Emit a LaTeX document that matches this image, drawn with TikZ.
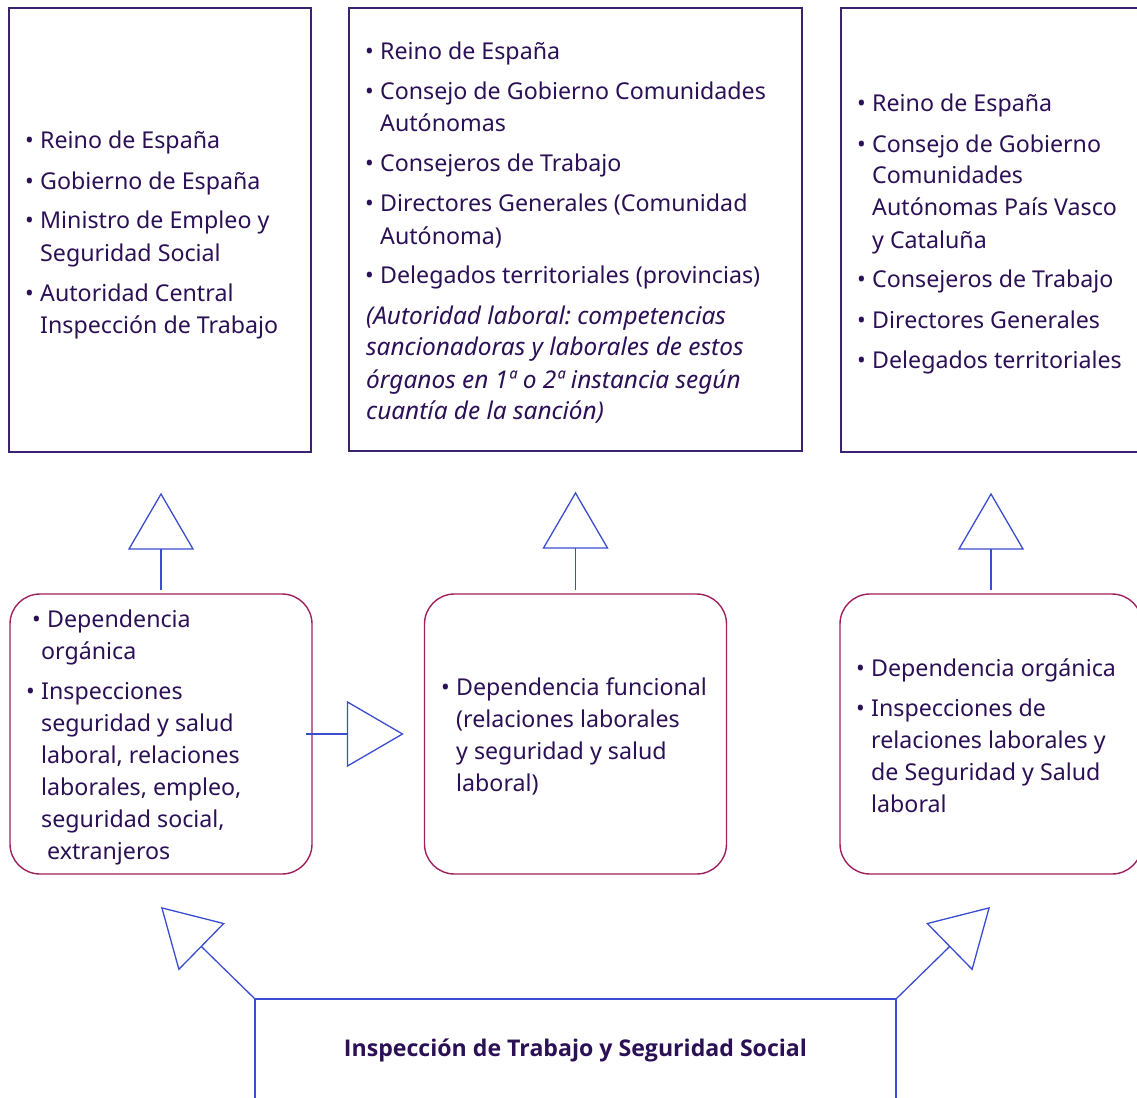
\documentclass[tikz,border=0pt]{standalone}
\usepackage{fontspec}
\usepackage{graphicx}
\setmainfont{Noto Sans}
\newfontfamily\osans{Open Sans}
\usetikzlibrary{arrows.meta}
\definecolor{txtcol}{HTML}{2B1055}
\definecolor{boxcol}{HTML}{3B2170}
\definecolor{rndcol}{HTML}{A0205E}
\definecolor{blu}{HTML}{3A4CCF}
\frenchspacing
\newcommand\nl{\hfil\break}
\newcommand\bul[1]{\par\hangindent=15pt\hangafter=1\noindent\makebox[15pt][l]{•}#1\par}
\newenvironment{blk}{\begin{minipage}[t]{420pt}\raggedright\frenchspacing\setlength{\parskip}{8pt}\hyphenpenalty=10000 }{\end{minipage}}
\tikzset{
  topbox/.style={draw=boxcol, line width=1.4pt, minimum width=302pt, minimum height=444pt, inner sep=0pt},
  rndbox/.style={draw=rndcol, line width=1.4pt, rounded corners=30pt, minimum width=302pt, minimum height=280pt, inner sep=0pt},
  txt/.style={text=txtcol, font=\fontsize{23.2}{32}\selectfont, inner sep=0pt, anchor=base west},
  conn/.style={draw=blu, line width=1.3pt, -{Triangle[open, length=57pt, width=66pt]}},
}
\begin{document}
\begin{tikzpicture}[x=1pt, y=-1pt]
\useasboundingbox (0,0) rectangle (1137,1097);
\clip (0,0) rectangle (1137,1097);
% top boxes
\node[topbox] (tl) at (160,230) {};
\node[topbox, minimum width=453pt, minimum height=443pt] (tm) at (575.5,229.5) {};
\node[topbox] (tr) at (992,230) {};
% rounded boxes
\node[rndbox] (rl) at (161,734) {};
\node[rndbox] (rm) at (575.5,734) {};
\node[rndbox] (rr) at (991,734) {};
% bottom box
\node[draw=blu, line width=1.3pt, minimum width=641pt, minimum height=102pt, inner sep=0pt, text=txtcol, font=\fontsize{23}{28}\selectfont] (itss) at (575.5,1050) {\raisebox{-2pt}{\resizebox{463pt}{\height}{\osans\bfseries Inspección de Trabajo y Seguridad Social}}};
% texts top
\node[txt] (tltext) at (25,149) {\begin{blk}
\bul{Reino de España}
\bul{Gobierno de España}
\bul{Ministro de Empleo y\nl Seguridad Social}
\bul{Autoridad Central\nl Inspección de Trabajo}
\end{blk}};
\node[txt] (tmtext) at (365,60) {\begin{blk}
\bul{Reino de España}
\bul{Consejo de Gobierno Comunidades\nl Autónomas}
\bul{Consejeros de Trabajo}
\bul{Directores Generales (Comunidad\nl Autónoma)}
\bul{Delegados territoriales (provincias)}
\par\hangindent=1pt\hangafter=1\noindent\hspace*{1pt}{\fontsize{24.4}{32}\selectfont\itshape (Autoridad laboral: competencias\nl sancionadoras y laborales de estos\nl órganos en 1ª o 2ª instancia según\nl cuantía de la sanción)}\par
\end{blk}};
\node[txt] (trtext) at (857,112) {\begin{blk}
\bul{Reino de España}
\bul{Consejo de Gobierno\nl Comunidades\nl Autónomas País Vasco\nl y Cataluña}
\bul{Consejeros de Trabajo}
\bul{Directores Generales}
\bul{Delegados territoriales}
\end{blk}};
% texts rounded
\node[txt] (rltext) at (26,627) {\begin{blk}
\par\hangindent=15pt\hangafter=1\noindent\hspace*{6pt}\makebox[15pt][l]{•}Dependencia\nl orgánica\par
\bul{Inspecciones\nl seguridad y salud\nl laboral, relaciones\nl laborales, empleo,\nl seguridad social,\nl \hspace*{6pt}extranjeros}
\end{blk}};
\node[txt] (rmtext) at (441,695) {\begin{blk}
\bul{Dependencia funcional\nl (relaciones laborales\nl y seguridad y salud\nl laboral)}
\end{blk}};
\node[txt] (rrtext) at (856,676) {\begin{blk}
\bul{Dependencia orgánica}
\bul{Inspecciones de\nl relaciones laborales y\nl de Seguridad y Salud\nl laboral}
\end{blk}};
% connectors
\draw[conn, shorten >=40pt] ([yshift=3pt]rl.north) -- (rl.north |- tl.south);
\draw[conn, shorten >=40pt] ([yshift=3pt]rm.north) -- (rm.north |- tm.south);
\draw[conn, shorten >=40pt] ([yshift=3pt]rr.north) -- (rr.north |- tr.south);
\draw[conn] ([xshift=-7pt]rl.east) -- ([xshift=-20pt]rm.west);
\coordinate (tipL) at (161,907);
\coordinate (tipR) at (990,907);
\draw[conn] (itss.north west) -- (tipL);
\draw[conn] (itss.north east) -- (tipR);
\end{tikzpicture}
\end{document}
